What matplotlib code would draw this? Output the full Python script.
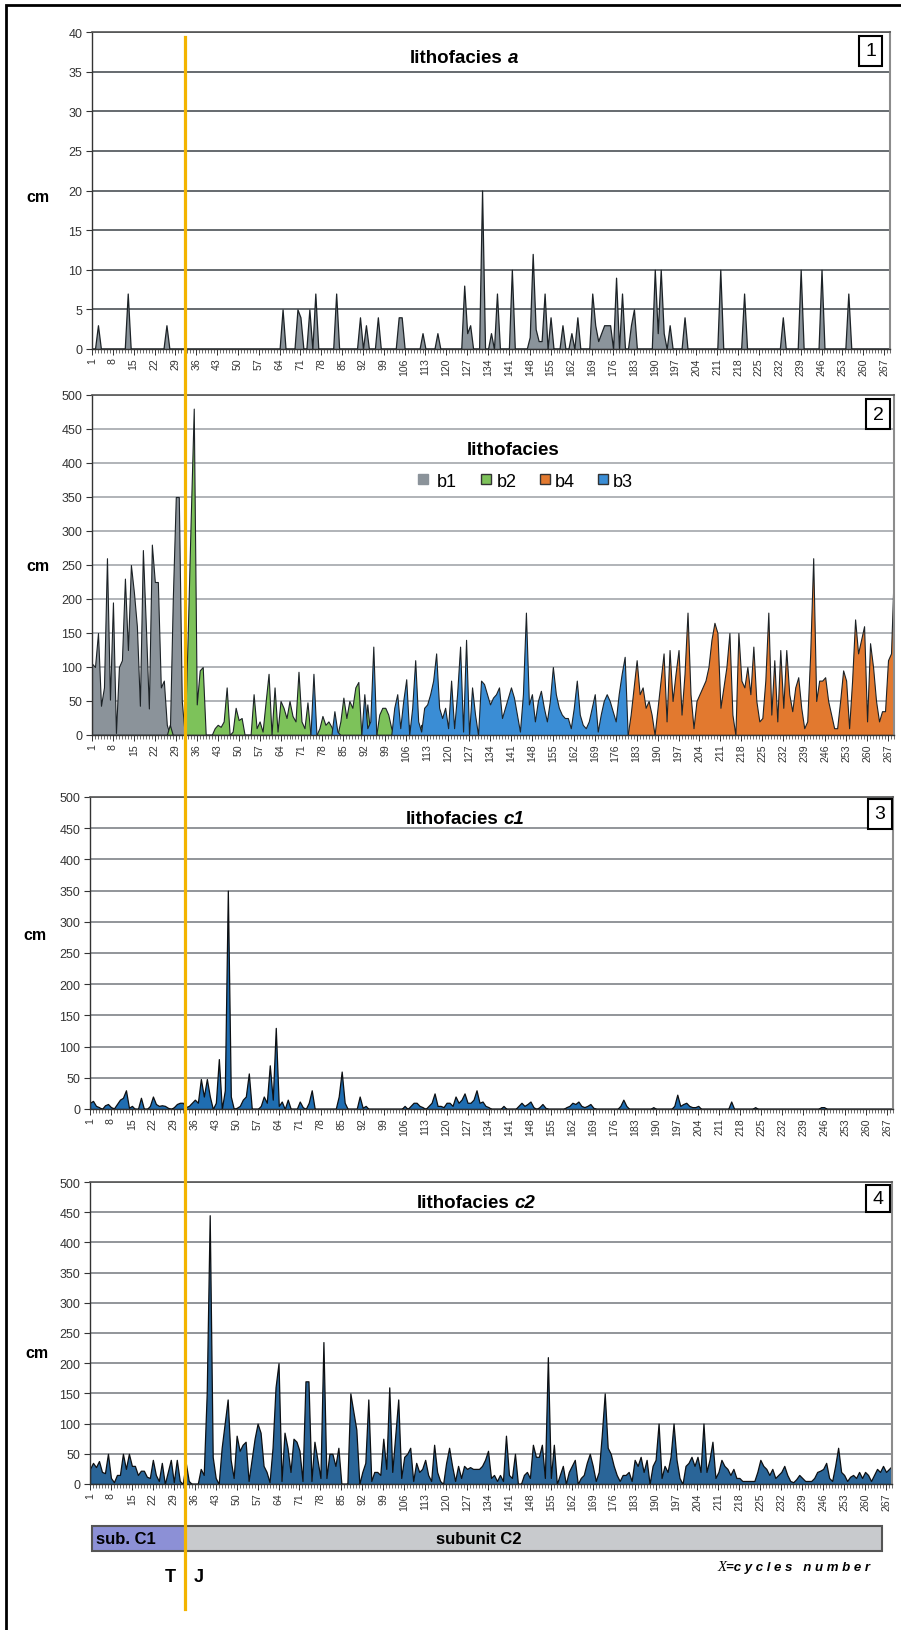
import numpy as np
import matplotlib
matplotlib.use('Agg')
import matplotlib.pyplot as plt
from matplotlib.patches import Rectangle
from matplotlib.lines import Line2D

plt.rcParams['font.family'] = ['Liberation Sans', 'DejaVu Sans']

W, H = 901, 1631
N_CYCLES = 269
cycles = np.arange(1, N_CYCLES + 1)
tick_cycles = list(range(1, 268, 7))

# ---------------- Panel 1 : lithofacies a (sparse) ----------------
a_cycles = [3, 13, 26, 65, 70, 71, 74, 76, 83, 91, 93, 97, 104, 105, 112, 117,
            126, 127, 128, 132, 135, 137, 142, 148, 149, 150, 151, 152, 153, 155,
            159, 162, 164, 169, 170, 171, 172, 173, 174, 175, 177, 179, 182, 183,
            190, 191, 192, 193, 195, 200, 212, 220, 233, 239, 246, 255]
a_values = [3, 7, 3, 5, 5, 4, 5, 7, 7, 4, 3, 4, 4, 4, 2, 2,
            8, 2, 3, 20, 2, 7, 10, 1.5, 12, 2.5, 1, 1, 7, 4,
            3, 2, 4, 7, 3, 1, 2, 3, 3, 3, 9, 7, 3, 5,
            10, 2, 10, 2, 3, 4, 10, 7, 4, 10, 10, 7]

# ---------------- Panel 2 : lithofacies b1..b4 ----------------
b1_start = 1
b1_values = [105, 100, 150, 43, 70, 260, 52, 195, 3, 100,
             110, 230, 125, 250, 210, 160, 43, 272, 160, 39,
             280, 225, 225, 70, 80, 15, 0, 200, 350, 350,
             50]
b2_start = 26
b2_values = [0, 15, 0, 0, 0, 0, 0, 150, 320, 480,
             45, 95, 100, 0, 0, 0, 10, 15, 12, 20,
             70, 0, 5, 40, 22, 25, 0, 0, 0, 60,
             10, 20, 5, 48, 90, 0, 70, 5, 50, 40,
             25, 50, 28, 20, 93, 20, 10, 48, 0, 0,
             0, 10, 28, 15, 20, 12, 0, 0, 20, 55,
             25, 50, 40, 70, 78, 0, 0, 45, 0, 0,
             0, 30, 40, 40, 30, 10, 0, 0, 0, 0,
             0, 15, 0, 0, 0, 15, 0, 0, 0, 0,
             0, 0, 0, 0, 0, 0, 0, 0, 0, 0,
             0, 10, 0, 0, 0]
b3_start = 74
b3_values = [0, 90, 0, 0, 0, 0, 0, 0, 35, 5,
             0, 0, 0, 0, 0, 0, 0, 0, 60, 10,
             20, 130, 0, 0, 0, 0, 0, 0, 40, 60,
             10, 50, 82, 0, 40, 110, 20, 5, 40, 45,
             60, 80, 120, 40, 25, 40, 10, 80, 10, 60,
             130, 5, 140, 0, 70, 30, 0, 80, 75, 60,
             45, 55, 60, 70, 25, 40, 55, 70, 55, 30,
             5, 60, 180, 45, 60, 20, 50, 65, 40, 20,
             50, 100, 60, 40, 30, 25, 25, 10, 40, 80,
             30, 15, 10, 20, 40, 60, 5, 30, 50, 60,
             50, 35, 20, 60, 90, 115, 0]
b4_start = 180
b4_values = [0, 30, 70, 110, 60, 70, 40, 50, 30, 0,
             40, 80, 120, 20, 125, 50, 90, 125, 30, 90,
             180, 60, 10, 50, 60, 70, 80, 100, 140, 165,
             150, 40, 70, 100, 150, 30, 0, 150, 80, 70,
             100, 60, 130, 50, 20, 25, 80, 180, 30, 110,
             20, 125, 40, 125, 60, 35, 70, 85, 40, 10,
             20, 120, 260, 50, 80, 80, 85, 50, 30, 10,
             10, 50, 95, 80, 10, 80, 170, 120, 140, 160,
             20, 135, 100, 50, 20, 35, 35, 110, 120, 250]

# ---------------- Panel 3 : lithofacies c1 (sparse) ----------------
c1_cycles = [1, 2, 3, 4, 6, 7, 8, 9, 10, 11, 12, 13, 14, 15, 18, 21, 22, 23, 24,
             25, 26, 27, 29, 30, 31, 32, 33, 34, 35, 36, 37, 38, 39, 40, 41, 43,
             44, 46, 47, 48, 50, 51, 52, 53, 54, 58, 59, 60, 61, 62, 63, 64, 65,
             67, 71, 72, 74, 75, 84, 85, 86, 91, 92, 93, 106, 108, 109, 110, 111,
             112, 114, 115, 116, 117, 118, 119, 120, 121, 122, 123, 124, 125, 126,
             127, 128, 129, 130, 131, 132, 133, 134, 139, 144, 145, 146, 147, 148,
             149, 151, 152, 153, 160, 161, 162, 163, 164, 165, 166, 167, 168, 169,
             178, 179, 180, 189, 196, 197, 198, 199, 200, 201, 202, 203, 204, 215,
             223, 245, 246]
c1_values = [10, 13, 5, 3, 6, 8, 3, 1, 8, 15, 18, 30, 2, 5, 18, 5, 20, 8, 5,
             6, 5, 2, 3, 8, 10, 10, 3, 5, 10, 15, 10, 48, 20, 48, 20, 10,
             80, 30, 350, 20, 2, 5, 15, 20, 57, 5, 20, 10, 70, 15, 130, 5, 12,
             15, 12, 3, 10, 30, 20, 60, 10, 20, 2, 5, 5, 5, 10, 10, 5,
             3, 5, 10, 25, 5, 5, 3, 10, 10, 5, 20, 10, 15, 25,
             10, 10, 15, 30, 10, 12, 5, 3, 5, 5, 10, 5, 8, 12,
             3, 3, 8, 2, 3, 5, 10, 8, 12, 5, 3, 5, 8, 2,
             5, 15, 5, 3, 5, 23, 5, 8, 10, 5, 3, 3, 5, 12,
             3, 3, 3]

# ---------------- Panel 4 : lithofacies c2 (dense) ----------------
c2_values = [25, 35, 28, 38, 20, 18, 50, 10, 3, 15,
             15, 50, 25, 50, 30, 30, 15, 22, 22, 12,
             10, 40, 15, 5, 35, 0, 20, 40, 3, 40,
             5, 0, 35, 5, 0, 0, 0, 25, 15, 150,
             445, 45, 10, 0, 60, 100, 140, 40, 10, 80,
             55, 65, 70, 5, 40, 75, 100, 85, 30, 20,
             3, 60, 160, 200, 5, 85, 60, 20, 75, 70,
             55, 5, 170, 170, 5, 70, 40, 10, 235, 10,
             50, 50, 30, 60, 0, 0, 0, 150, 120, 90,
             0, 20, 35, 140, 5, 20, 20, 15, 75, 25,
             160, 20, 80, 140, 10, 45, 50, 60, 5, 35,
             20, 25, 40, 15, 5, 65, 20, 5, 0, 35,
             60, 30, 5, 30, 10, 30, 25, 28, 25, 25,
             25, 30, 40, 55, 10, 15, 5, 15, 5, 80,
             15, 10, 50, 0, 0, 15, 20, 10, 65, 45,
             45, 65, 10, 210, 10, 65, 0, 15, 30, 0,
             20, 30, 40, 0, 10, 15, 35, 50, 30, 5,
             20, 80, 150, 60, 50, 30, 15, 5, 15, 15,
             20, 5, 40, 30, 45, 20, 40, 0, 30, 40,
             100, 10, 30, 20, 45, 100, 40, 10, 0, 30,
             35, 45, 30, 45, 20, 100, 20, 40, 70, 10,
             20, 40, 30, 25, 15, 25, 10, 10, 5, 5,
             5, 5, 5, 20, 40, 30, 25, 15, 25, 10,
             15, 20, 30, 15, 5, 3, 8, 15, 10, 5,
             5, 5, 10, 20, 22, 25, 35, 10, 5, 30,
             60, 20, 15, 5, 12, 15, 10, 20, 10, 20,
             15, 5, 15, 25, 20, 30, 20, 25, 30]


def sparse_series(cs, vs):
    arr = np.zeros(N_CYCLES)
    for c, v in zip(cs, vs):
        arr[c - 1] = v
    return arr


def block_series(start, vs):
    arr = np.zeros(N_CYCLES)
    vs = list(vs)[:N_CYCLES - start + 1]
    arr[start - 1:start - 1 + len(vs)] = vs
    return arr


fig = plt.figure(figsize=(W / 100, H / 100), dpi=100)
fig.patch.set_facecolor('white')


def fx(x):
    return x / W


def fy(y):
    return 1 - y / H


def make_axes(left, right, top, bottom):
    return fig.add_axes([fx(left), fy(bottom), (right - left) / W, (bottom - top) / H])


def style_axes(ax, ymax, ystep, gridcolor, gridlw=1.2):
    ax.set_xlim(1, N_CYCLES)
    ax.set_ylim(0, ymax)
    ax.set_yticks(np.arange(0, ymax + 0.1, ystep))
    ax.set_yticklabels([f"{int(v)}" for v in np.arange(0, ymax + 0.1, ystep)])
    ax.set_xticks(tick_cycles)
    ax.set_xticklabels([str(t) for t in tick_cycles], rotation=90)
    ax.set_xticks(cycles, minor=True)
    ax.yaxis.grid(True, color=gridcolor, lw=gridlw)
    ax.xaxis.grid(False)
    ax.set_axisbelow(True)
    ax.tick_params(axis='y', length=4, width=0.8, color='#333333', labelsize=9,
                   labelcolor='#333333', pad=3)
    ax.tick_params(axis='x', which='major', length=4, width=0.7, color='#333333',
                   labelsize=7.6, labelcolor='#333333', pad=2)
    ax.tick_params(axis='x', which='minor', length=3, width=0.6, color='#555555')
    ax.spines['left'].set_color('#333333')
    ax.spines['left'].set_linewidth(1.0)
    ax.spines['bottom'].set_color('#333333')
    ax.spines['bottom'].set_linewidth(1.0)
    ax.spines['top'].set_color('#555555')
    ax.spines['top'].set_linewidth(1.2)
    ax.spines['right'].set_color('#8c8c8c')
    ax.spines['right'].set_linewidth(1.5)
    ax.set_facecolor('white')


def title(x, y_base, main, ital, size=13.5):
    t = fig.text(fx(x), fy(y_base), main, fontsize=size, fontweight='bold',
                 ha='left', va='baseline')
    if ital:
        r = fig.canvas.get_renderer()
        bb = t.get_window_extent(renderer=r)
        fig.text(bb.x1 / W + 5 / W, fy(y_base), ital, fontsize=size,
                 fontweight='bold', fontstyle='italic', ha='left', va='baseline')


def number_box(x0, x1, y0, y1, label):
    fig.add_artist(Rectangle((fx(x0), fy(y1)), (x1 - x0) / W, (y1 - y0) / H,
                             transform=fig.transFigure, facecolor='white',
                             edgecolor='black', lw=1.5, zorder=5))
    fig.text(fx((x0 + x1) / 2), fy((y0 + y1) / 2), label, fontsize=14,
             ha='center', va='center', zorder=6)


def cm_label(x, y):
    fig.text(fx(x), fy(y), 'cm', fontsize=11.5, fontweight='bold',
             ha='center', va='center')


edge = '#1c2226'

# ---- Panel 1
ax1 = make_axes(92, 890, 33, 350)
style_axes(ax1, 40, 5, '#656a6f', 1.4)
ax1.fill_between(cycles, 0, sparse_series(a_cycles, a_values),
                 facecolor='#8b949b', edgecolor=edge, lw=0.9)
title(410, 63, 'lithofacies', 'a')
number_box(859, 882, 37, 67, '1')
cm_label(38, 198)

# ---- Panel 2
ax2 = make_axes(92, 894, 396, 736)
style_axes(ax2, 500, 50, '#a3a7ab')
series_b = [('b1', b1_start, b1_values, '#8b939a'),
            ('b2', b2_start, b2_values, '#7dc25a'),
            ('b4', b4_start, b4_values, '#e2792f'),
            ('b3', b3_start, b3_values, '#3a8dd5')]
for name, st, vals, col in series_b:
    ax2.fill_between(cycles, 0, block_series(st, vals),
                     facecolor=col, edgecolor=edge, lw=0.8)
title(467, 455, 'lithofacies', None)
number_box(866, 890, 400, 430, '2')
cm_label(38, 567)
# legend
leg_pos = [(423, 437), (486, 497), (545, 555), (603, 613)]
for (sq_x, tx_x), (name, st, vals, col) in zip(leg_pos, series_b):
    ec = col if name == 'b1' else '#333333'
    fig.add_artist(Rectangle((fx(sq_x - 5), fy(485)), 10 / W, 10 / H,
                             transform=fig.transFigure, facecolor=col,
                             edgecolor=ec, lw=1.0))
    fig.text(fx(tx_x), fy(487), name, fontsize=13, ha='left', va='baseline')

# ---- Panel 3
ax3 = make_axes(90, 893, 798, 1110)
style_axes(ax3, 500, 50, '#7f8387')
ax3.fill_between(cycles, 0, sparse_series(c1_cycles, c1_values),
                 facecolor='#1f6db1', edgecolor='#0c0f12', lw=0.9)
title(406, 824, 'lithofacies', 'c1')
number_box(868, 892, 800, 830, '3')
cm_label(35, 936)

# ---- Panel 4
ax4 = make_axes(90, 892, 1183, 1485)
style_axes(ax4, 500, 50, '#7f8387')
ax4.fill_between(cycles, 0, block_series(1, c2_values),
                 facecolor='#2a6598', edgecolor='#0c0f12', lw=0.9)
title(417, 1208, 'lithofacies', 'c2')
number_box(866, 890, 1186, 1213, '4')
cm_label(37, 1353)

# ---- bottom subunit bar
fig.add_artist(Rectangle((fx(92), fy(1552)), (185 - 92) / W, 25 / H,
                         transform=fig.transFigure, facecolor='#8c90d6',
                         edgecolor='none'))
fig.add_artist(Rectangle((fx(185), fy(1552)), (882 - 185) / W, 25 / H,
                         transform=fig.transFigure, facecolor='#c8cacd',
                         edgecolor='none'))
fig.add_artist(Rectangle((fx(92), fy(1552)), (882 - 92) / W, 25 / H,
                         transform=fig.transFigure, facecolor='none',
                         edgecolor='#555555', lw=1.5))
fig.text(fx(96), fy(1540), 'sub. C1', fontsize=12, fontweight='bold',
         ha='left', va='center')
fig.text(fx(479), fy(1540), 'subunit C2', fontsize=12, fontweight='bold',
         ha='center', va='center')
fig.text(fx(170), fy(1578), 'T', fontsize=13, fontweight='bold',
         ha='center', va='center')
fig.text(fx(199), fy(1578), 'J', fontsize=13, fontweight='bold',
         ha='center', va='center')

# X = cycles number
r = fig.canvas.get_renderer()
t_num = fig.text(fx(870), fy(1571), '=c y c l e s   n u m b e r', fontsize=9.5,
                 fontweight='bold', fontstyle='italic', ha='right', va='baseline')
bb = t_num.get_window_extent(renderer=r)
fig.text(bb.x0 / W, fy(1571), 'X', fontsize=10.5, fontstyle='italic',
         family=['Liberation Serif', 'DejaVu Serif'], ha='right', va='baseline')

# ---- T/J boundary line (yellow)
fig.add_artist(Line2D([fx(185), fx(185)], [fy(38), fy(1610)],
                      transform=fig.transFigure, color='#f3b400', lw=2.3,
                      zorder=100))

# ---- outer frame
fig.add_artist(Rectangle((fx(6), fy(1660)), (930 - 6) / W, (1660 - 6) / H,
                         transform=fig.transFigure, facecolor='none',
                         edgecolor='black', lw=2.0, zorder=101))

fig.savefig('out.png', dpi=100, facecolor='white')
